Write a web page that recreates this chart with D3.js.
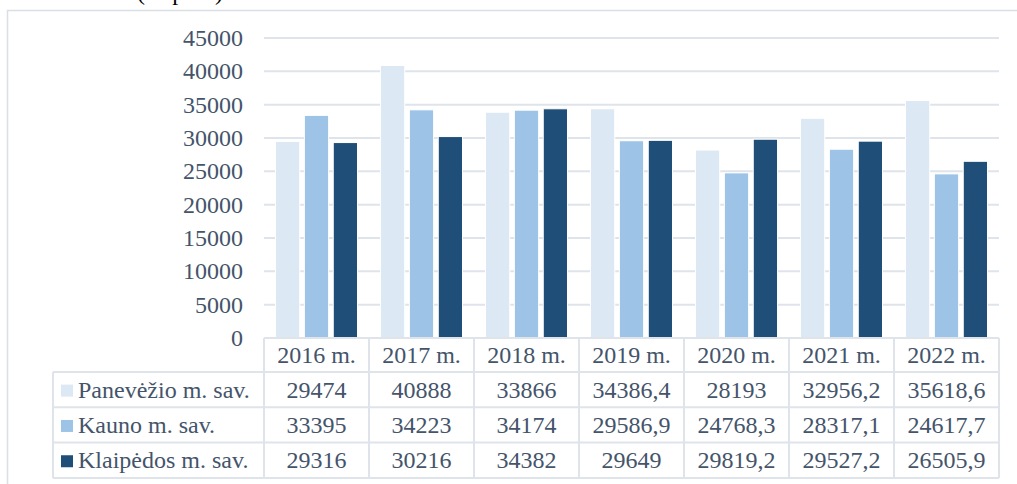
<!DOCTYPE html>
<html>
<head>
<meta charset="utf-8">
<script src="https://cdn.jsdelivr.net/npm/d3@7"></script>
<style>
  body { margin: 0; background: white; }
</style>
</head>
<body>
<svg id="chart"></svg>
<script>
const years = ["2016 m.", "2017 m.", "2018 m.", "2019 m.", "2020 m.", "2021 m.", "2022 m."];
const seriesNames = ["Panevėžio m. sav.", "Kauno m. sav.", "Klaipėdos m. sav."];
const panevezys = [29474, 40888, 33866, 34386.4, 28193, 32956.2, 35618.6];
const kaunas = [33395, 34223, 34174, 29586.9, 24768.3, 28317.1, 24617.7];
const klaipeda = [29316, 30216, 34382, 29649, 29819.2, 29527.2, 26505.9];
const yTicks = [0, 5000, 10000, 15000, 20000, 25000, 30000, 35000, 40000, 45000];
const colorList = ["#dde8f5", "#9dc3e6", "#1f4e79"];

const width = 1017;
const height = 484;
const margin = { top: 38, left: 264, right: 18, bottom: 146 };
const textColor = "#44546a";
const lineColor = "#dfe4eb";
const fontSize = 24;
const fontFamily = "'Liberation Serif', 'Times New Roman', 'DejaVu Serif', serif";

const seriesValues = [panevezys, kaunas, klaipeda];
// lithuanian decimal comma in the table
const fmt = (v) => String(v).replace(".", ",");

const svg = d3.select("#chart")
  .attr("width", width)
  .attr("height", height)
  .attr("font-family", fontFamily)
  .style("font-family", fontFamily);

// caption cut off at top of the crop
svg.append("text")
  .attr("x", 137)
  .attr("y", 0)
  .attr("font-size", fontSize)
  .attr("fill", "black")
  .text("(su pvm)");

// outer chart border
svg.append("rect")
  .attr("x", 7.5)
  .attr("y", 10.5)
  .attr("width", width + 20)
  .attr("height", height)
  .attr("fill", "none")
  .attr("stroke", "#dadfe6")
  .attr("stroke-width", 1.5);

const x0 = d3.scaleBand()
  .domain(years)
  .range([margin.left, width - margin.right])
  .padding(0);

const x1 = d3.scaleBand()
  .domain(d3.range(seriesNames.length))
  .range([11.5, x0.bandwidth() - 11.5])
  .paddingInner(0.16);

const y = d3.scaleLinear()
  .domain([0, 45000])
  .range([height - margin.bottom, margin.top]);

// gridlines
svg.selectAll(".grid")
  .data(yTicks)
  .join("line")
  .attr("class", "grid")
  .attr("x1", margin.left)
  .attr("x2", width - margin.right)
  .attr("y1", (d) => y(d))
  .attr("y2", (d) => y(d))
  .attr("stroke", lineColor)
  .attr("stroke-width", 2);

// y axis labels
svg.selectAll(".yLabel")
  .data(yTicks)
  .join("text")
  .attr("class", "yLabel")
  .attr("x", 243)
  .attr("y", (d) => y(d) + 8)
  .attr("text-anchor", "end")
  .attr("font-size", fontSize)
  .attr("fill", textColor)
  .text((d) => d);

// bars
const marks = [];
years.forEach((yr, i) => {
  seriesValues.forEach((vals, s) => {
    marks.push({ year: yr, s: s, value: vals[i] });
  });
});

svg.selectAll(".bar")
  .data(marks)
  .join("rect")
  .attr("class", "bar")
  .attr("x", (d) => x0(d.year) + x1(d.s))
  .attr("y", (d) => y(d.value))
  .attr("width", x1.bandwidth())
  .attr("height", (d) => y(0) - y(d.value))
  .attr("fill", (d) => colorList[d.s])
  .attr("stroke", "white")
  .attr("stroke-width", 1);

// data table
const headerTop = y(0);
const headerH = 34;
const rowH = 35.3;
const tableLeft = 53;
const tableRight = width - margin.right;
const rowTop = (r) => headerTop + headerH + r * rowH;
const tableBottom = rowTop(seriesNames.length);

const table = svg.append("g").attr("class", "table");

// horizontal lines
table.append("line")
  .attr("x1", margin.left).attr("x2", tableRight)
  .attr("y1", headerTop).attr("y2", headerTop);
d3.range(seriesNames.length + 1).forEach((r) => {
  table.append("line")
    .attr("x1", tableLeft).attr("x2", tableRight)
    .attr("y1", rowTop(r)).attr("y2", rowTop(r));
});
// vertical lines
table.append("line")
  .attr("x1", tableLeft).attr("x2", tableLeft)
  .attr("y1", rowTop(0)).attr("y2", tableBottom);
years.forEach((yr) => {
  table.append("line")
    .attr("x1", x0(yr)).attr("x2", x0(yr))
    .attr("y1", headerTop).attr("y2", tableBottom);
});
table.append("line")
  .attr("x1", tableRight).attr("x2", tableRight)
  .attr("y1", headerTop).attr("y2", tableBottom);
table.selectAll("line")
  .attr("stroke", lineColor)
  .attr("stroke-width", 2);

// header
table.selectAll(".header")
  .data(years)
  .join("text")
  .attr("class", "header")
  .attr("x", (d) => x0(d) + x0.bandwidth() / 2)
  .attr("y", headerTop + headerH / 2 + 8)
  .attr("text-anchor", "middle")
  .attr("font-size", fontSize)
  .attr("fill", textColor)
  .text((d) => d);

// legend keys + row labels
seriesNames.forEach((name, s) => {
  const cy = rowTop(s) + rowH / 2;
  table.append("rect")
    .attr("x", 61)
    .attr("y", cy - 5)
    .attr("width", 12)
    .attr("height", 12)
    .attr("fill", colorList[s]);
  table.append("text")
    .attr("x", 78)
    .attr("y", cy + 8)
    .attr("font-size", fontSize)
    .attr("fill", textColor)
    .text(name);
  table.selectAll(".cell" + s)
    .data(seriesValues[s])
    .join("text")
    .attr("class", "cell" + s)
    .attr("x", (d, i) => x0(years[i]) + x0.bandwidth() / 2)
    .attr("y", cy + 8)
    .attr("text-anchor", "middle")
    .attr("font-size", fontSize)
    .attr("fill", textColor)
    .text((d) => fmt(d));
});
</script>
</body>
</html>
